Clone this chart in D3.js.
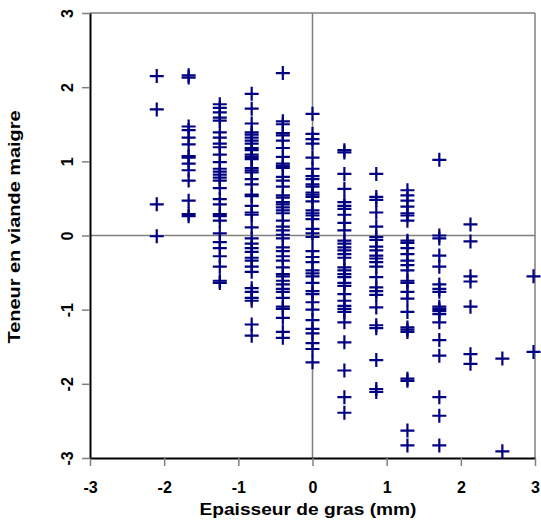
<!DOCTYPE html>
<html>
<head>
<meta charset="utf-8">
<script src="https://cdn.jsdelivr.net/npm/d3@7"></script>
<style>
  body { margin: 0; background: #fff; }
  text { font-family: "Liberation Sans", Arial, sans-serif; font-weight: bold; fill: #000; }
</style>
</head>
<body>
<svg id="chart" width="541" height="520"></svg>
<script>
// Standardised fat thickness levels (x) and lean-meat scores (y) per level
const epaisseurLevels = [-2.10, -1.67, -1.25, -0.82, -0.40, 0, 0.43, 0.86, 1.28, 1.71, 2.13, 2.56, 2.98];

const teneurParNiveau = [
  [2.15, 1.70, 0.42, -0.01],
  [2.16, 2.13, 1.47, 1.42, 1.32, 1.23, 1.07, 1.05, 0.97, 0.88, 0.74, 0.47, 0.29, 0.26],
  [1.77, 1.72, 1.66, 1.59, 1.55, 1.39, 1.32, 1.24, 1.19, 1.09, 0.99, 0.90, 0.86, 0.82, 0.78, 0.74, 0.64, 0.49, 0.42, 0.29, 0.26, 0.20, 0.03, -0.09, -0.17, -0.28, -0.42, -0.61, -0.64],
  [1.91, 1.71, 1.51, 1.39, 1.36, 1.32, 1.28, 1.24, 1.18, 1.15, 1.09, 1.06, 1.03, 0.91, 0.88, 0.85, 0.76, 0.69, 0.55, 0.53, 0.40, 0.31, 0.28, 0.11, -0.04, -0.11, -0.17, -0.22, -0.30, -0.34, -0.42, -0.49, -0.71, -0.76, -0.84, -0.88, -1.20, -1.35],
  [2.19, 1.54, 1.50, 1.38, 1.35, 1.28, 1.18, 1.06, 0.97, 0.94, 0.91, 0.79, 0.74, 0.66, 0.54, 0.51, 0.45, 0.42, 0.38, 0.34, 0.30, 0.20, 0.12, 0.07, 0.01, -0.04, -0.16, -0.21, -0.28, -0.34, -0.43, -0.52, -0.55, -0.61, -0.66, -0.72, -0.76, -0.84, -0.96, -0.99, -1.11, -1.30, -1.38],
  [1.64, 1.37, 1.30, 1.24, 1.05, 0.90, 0.80, 0.76, 0.69, 0.66, 0.58, 0.55, 0.52, 0.46, 0.34, 0.30, 0.27, 0.22, 0.09, 0.03, -0.02, -0.21, -0.29, -0.36, -0.47, -0.51, -0.55, -0.64, -0.75, -0.79, -0.90, -1.00, -1.14, -1.26, -1.32, -1.45, -1.53, -1.71],
  [1.15, 1.12, 0.83, 0.63, 0.45, 0.40, 0.36, 0.28, 0.17, 0.07, -0.07, -0.11, -0.16, -0.20, -0.25, -0.30, -0.43, -0.47, -0.52, -0.56, -0.64, -0.68, -0.79, -0.88, -0.95, -0.99, -1.03, -1.17, -1.44, -1.82, -2.18, -2.39],
  [0.83, 0.52, 0.48, 0.31, 0.12, -0.02, -0.06, -0.15, -0.20, -0.27, -0.31, -0.36, -0.42, -0.56, -0.70, -0.75, -0.80, -0.97, -1.21, -1.25, -1.68, -2.07, -2.11],
  [0.61, 0.54, 0.47, 0.39, 0.30, 0.27, 0.20, -0.07, -0.10, -0.17, -0.25, -0.34, -0.40, -0.47, -0.61, -0.64, -0.76, -0.85, -1.03, -1.24, -1.27, -1.30, -1.93, -1.96, -2.63, -2.83],
  [1.02, 0.00, -0.04, -0.27, -0.42, -0.66, -0.72, -0.76, -0.96, -0.99, -1.02, -1.06, -1.17, -1.41, -1.62, -2.18, -2.43, -2.83],
  [0.15, -0.08, -0.55, -0.62, -0.96, -1.60, -1.73],
  [-1.66, -2.91],
  [-0.55, -1.57]
];

const xTicks = [-3, -2, -1, 0, 1, 2, 3];
const yTicks = [-3, -2, -1, 0, 1, 2, 3];
const xTitle = "Epaisseur de gras (mm)";
const yTitle = "Teneur en viande maigre";

const points = epaisseurLevels.flatMap((xv, i) => teneurParNiveau[i].map(yv => ({ x: xv, y: yv })));

const plot = { left: 90, right: 535, top: 13, bottom: 458 };
const x = d3.scaleLinear().domain([-3, 3]).range([plot.left, plot.right]);
const y = d3.scaleLinear().domain([-3, 3]).range([plot.bottom, plot.top]);

const svg = d3.select("#chart");

// frame lines (top and right) and zero reference lines
svg.append("line").attr("x1", plot.left).attr("x2", plot.right).attr("y1", plot.top).attr("y2", plot.top)
  .attr("stroke", "#808080").attr("stroke-width", 1.5);
svg.append("line").attr("x1", plot.right).attr("x2", plot.right).attr("y1", plot.top).attr("y2", plot.bottom)
  .attr("stroke", "#808080").attr("stroke-width", 1.5);
svg.append("line").attr("x1", x(0)).attr("x2", x(0)).attr("y1", plot.top).attr("y2", plot.bottom)
  .attr("stroke", "#808080").attr("stroke-width", 1.5);
svg.append("line").attr("x1", plot.left).attr("x2", plot.right).attr("y1", y(0)).attr("y2", y(0))
  .attr("stroke", "#808080").attr("stroke-width", 1.5);

// axes
const xAxis = svg.append("g").attr("transform", `translate(0,${plot.bottom})`)
  .call(d3.axisBottom(x).tickValues(xTicks).tickSizeInner(8).tickSizeOuter(0).tickPadding(16).tickFormat(d3.format("d")));
const yAxis = svg.append("g").attr("transform", `translate(${plot.left},0)`)
  .call(d3.axisLeft(y).tickValues(yTicks).tickSizeInner(8).tickSizeOuter(0).tickFormat(d3.format("d")));

[xAxis, yAxis].forEach(g => {
  g.select(".domain").attr("stroke", "#000").attr("stroke-width", 2);
  g.selectAll(".tick line").attr("stroke", "#808080").attr("stroke-width", 1.5);
  g.selectAll(".tick text").attr("font-size", 16).attr("font-family", null);
});
xAxis.selectAll(".tick text").text(d => d3.format("d")(d).replace("−", "-"));
yAxis.selectAll(".tick text")
  .text(d => d3.format("d")(d).replace("−", "-"))
  .attr("x", null).attr("dy", "0.35em")
  .attr("text-anchor", "middle")
  .attr("transform", "translate(-23,0) rotate(-90)");

// markers: plus signs
const half = 7;
const marks = svg.append("g").attr("stroke", "#000080").attr("stroke-width", 2.2).attr("fill", "none");
marks.selectAll("path").data(points).join("path")
  .attr("d", d => `M${x(d.x) - half},${y(d.y)}H${x(d.x) + half}M${x(d.x)},${y(d.y) - half}V${y(d.y) + half}`);

// titles
svg.append("text").attr("x", 308).attr("y", 515).attr("text-anchor", "middle").attr("font-size", 17)
  .attr("textLength", 217).attr("lengthAdjust", "spacingAndGlyphs")
  .text(xTitle);
svg.append("text").attr("transform", `translate(20,227) rotate(-90)`).attr("text-anchor", "middle").attr("font-size", 17)
  .attr("textLength", 233).attr("lengthAdjust", "spacingAndGlyphs")
  .text(yTitle);
</script>
</body>
</html>
